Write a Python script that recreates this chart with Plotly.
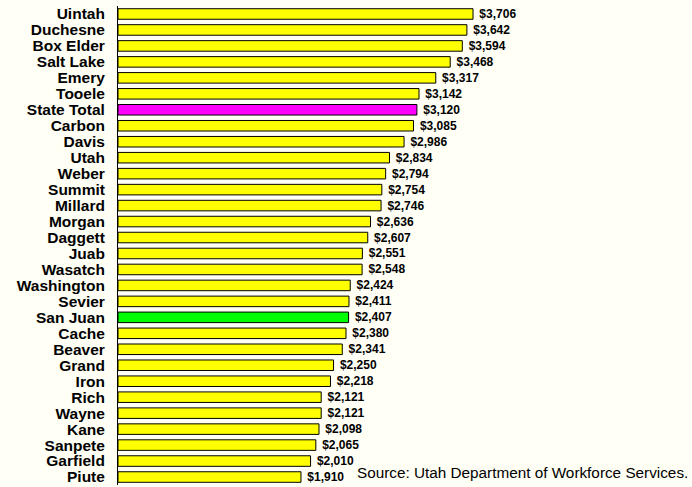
import plotly.graph_objects as go

counties = ["Uintah", "Duchesne", "Box Elder", "Salt Lake", "Emery", "Tooele", "State Total",
            "Carbon", "Davis", "Utah", "Weber", "Summit", "Millard", "Morgan", "Daggett", "Juab",
            "Wasatch", "Washington", "Sevier", "San Juan", "Cache", "Beaver", "Grand", "Iron",
            "Rich", "Wayne", "Kane", "Sanpete", "Garfield", "Piute"]
wages = [3706, 3642, 3594, 3468, 3317, 3142, 3120, 3085, 2986, 2834, 2794, 2754, 2746, 2636,
         2607, 2551, 2548, 2424, 2411, 2407, 2380, 2341, 2250, 2218, 2121, 2121, 2098, 2065,
         2010, 1910]
highlight = {"State Total": "#FF00FF", "San Juan": "#00FF00"}
colors = [highlight.get(c, "#FFFF00") for c in counties]
source = "Source: Utah Department of Workforce Services."

fig = go.Figure(go.Bar(
    x=wages, y=counties, orientation="h",
    marker=dict(color=colors, line=dict(color="black", width=1)),
    texttemplate=" $%{x:,}", textposition="outside", constraintext="none",
    cliponaxis=False,
    textfont=dict(family="Liberation Sans, Arial", size=12, color="black", weight="bold"),
))
fig.update_layout(
    width=692, height=487,
    margin=dict(l=118, r=95, t=6, b=2, autoexpand=False),
    paper_bgcolor="#FFFFF5", plot_bgcolor="#FFFFF5",
    bargap=0.34, showlegend=False,
    xaxis=dict(range=[0, 5000], visible=False, showgrid=False, zeroline=False),
    yaxis=dict(autorange="reversed", showline=True, linecolor="black", linewidth=1,
               showgrid=False, ticks="", ticklabelstandoff=9, automargin=False,
               tickmode="array", tickvals=counties, ticktext=counties,
               tickfont=dict(family="Liberation Sans, Arial", size=15.5, color="black", weight="bold")),
    annotations=[dict(text=source, xref="paper", yref="paper", x=(690 - 118) / 479,
                      y=(485 - 472) / 479,
                      xanchor="right", yanchor="middle", showarrow=False,
                      font=dict(family="Liberation Sans, Arial", size=15.3, color="black"))],
)
fig.write_html("out.html", config={"displayModeBar": False},
               post_script="document.body.style.margin='0';document.body.style.background='#FFFFF5';")
